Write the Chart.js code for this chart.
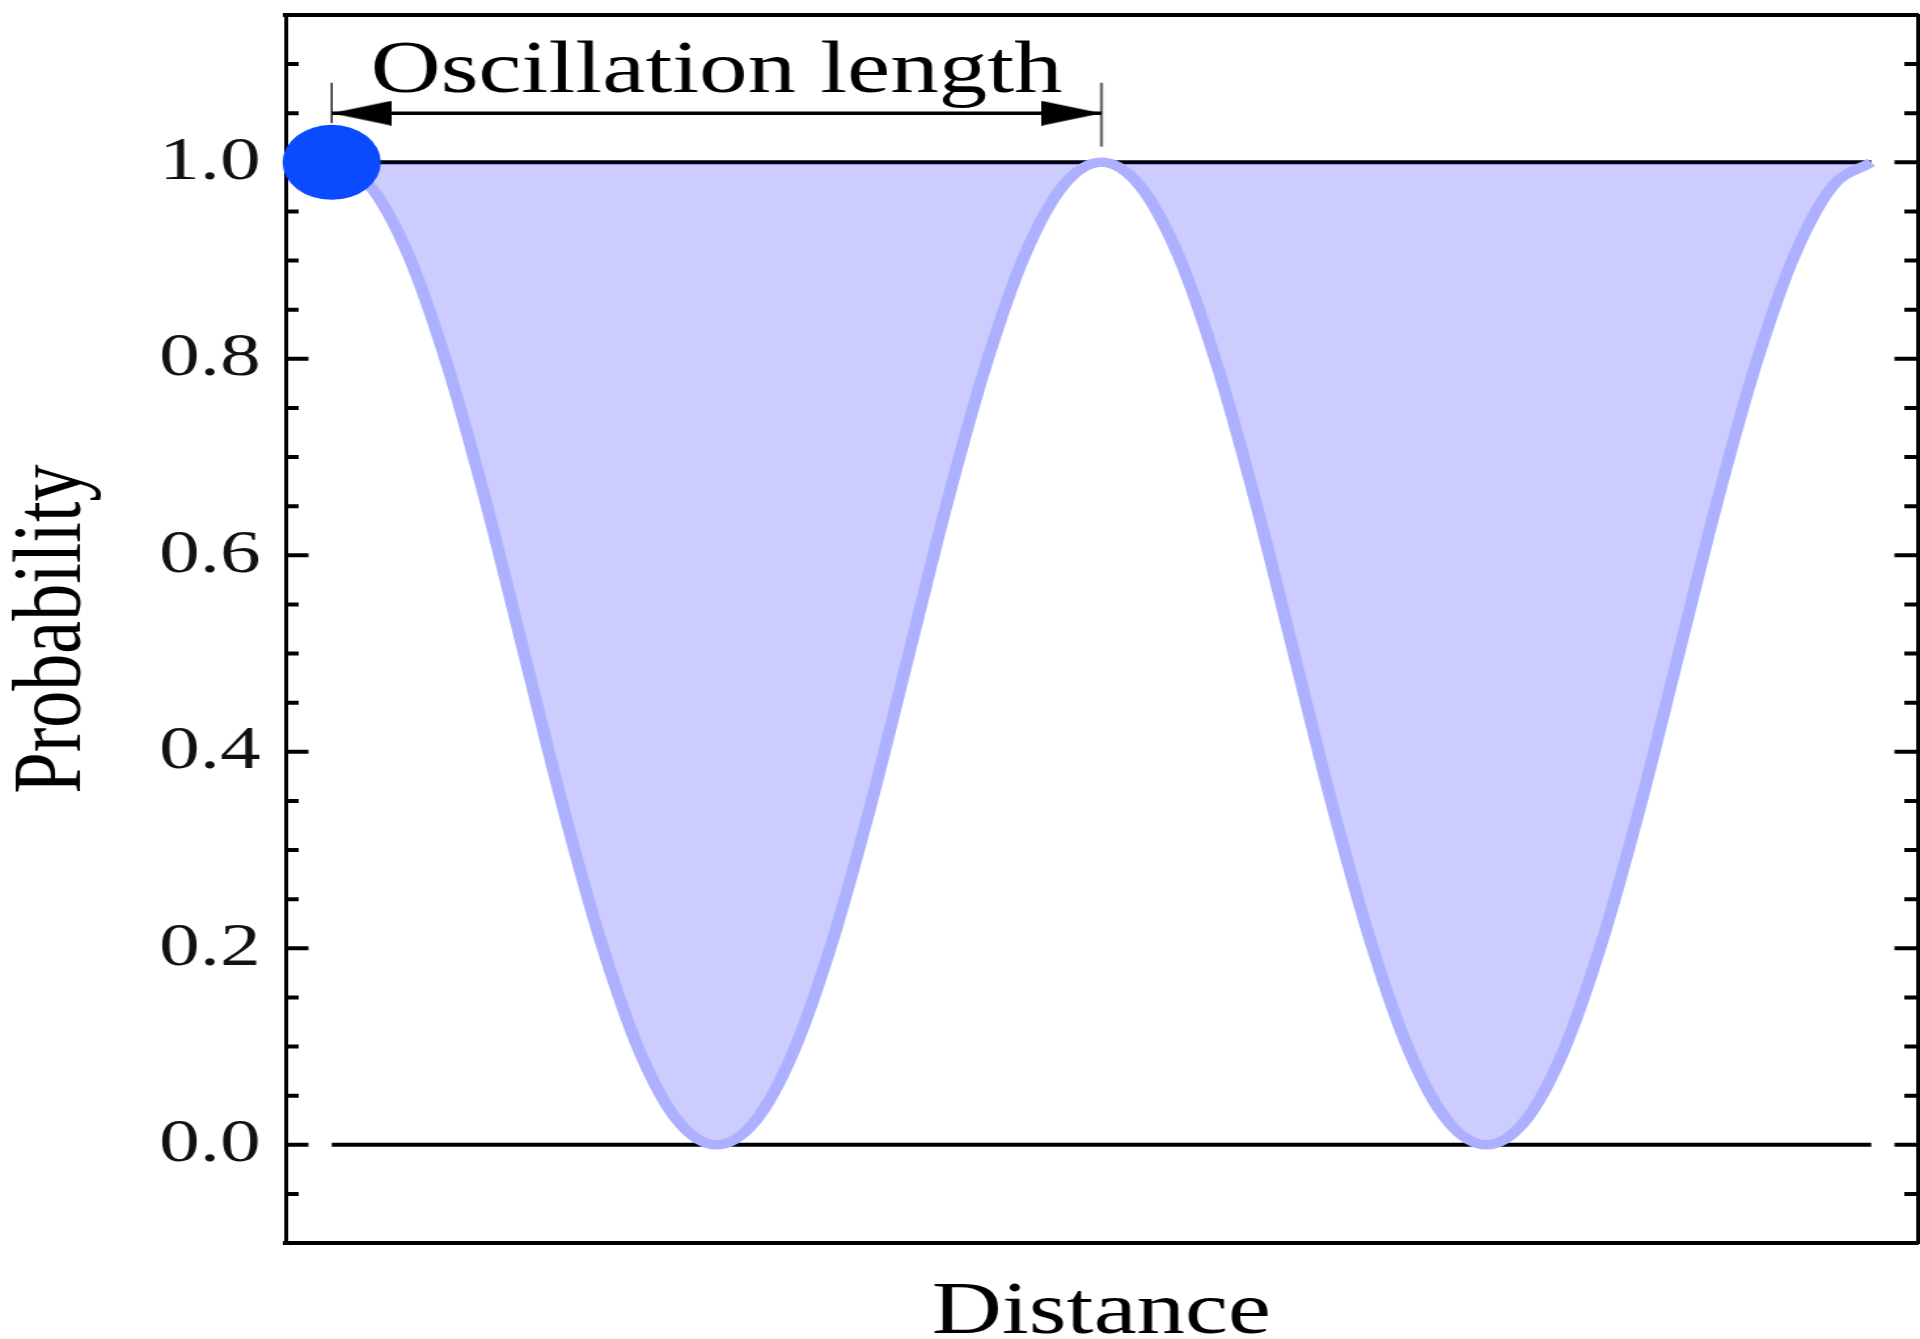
<!DOCTYPE html>
<html>
<head>
<meta charset="utf-8">
<script src="https://cdn.jsdelivr.net/npm/chart.js@4.4.1/dist/chart.umd.min.js"></script>
<style>
  html, body { margin: 0; padding: 0; background: #fff; overflow: hidden; }
  /* the figure is drawn narrow and stretched sideways */
  #wrap { width: 1466px; height: 1339px; transform: scaleX(1.3097); transform-origin: 0 0; }
  canvas { display: block; }
</style>
</head>
<body>
<div id="wrap"><canvas id="chart" width="1466" height="1339"></canvas></div>
<script>
// Survival probability along the path (two full oscillations)
const distance = [
    0.00, 0.05, 0.10, 0.15, 0.20, 0.25, 0.30, 0.35, 0.40, 0.45,
    0.50, 0.55, 0.60, 0.65, 0.70, 0.75, 0.80, 0.85, 0.90, 0.95,
    1.00, 1.05, 1.10, 1.15, 1.20, 1.25, 1.30, 1.35, 1.40, 1.45,
    1.50, 1.55, 1.60, 1.65, 1.70, 1.75, 1.80, 1.85, 1.90, 1.95, 2.00
];
const probability = [
    1.000, 0.976, 0.905, 0.794, 0.655, 0.500, 0.345, 0.206, 0.095, 0.024,
    0.000, 0.024, 0.095, 0.206, 0.345, 0.500, 0.655, 0.794, 0.905, 0.976,
    1.000, 0.976, 0.905, 0.794, 0.655, 0.500, 0.345, 0.206, 0.095, 0.024,
    0.000, 0.024, 0.095, 0.206, 0.345, 0.500, 0.655, 0.794, 0.905, 0.976, 1.000
];

// Reference levels drawn across the whole path
const boundLevels = [0, 1];
const boundSpan = [0, 2];

// Source position
const sourceX = [0];
const sourceY = [1];

// One oscillation length
const spanStart = 0;
const spanEnd = 1;
const spanText = 'Oscillation length';

const yMajorTicks = [0, 0.2, 0.4, 0.6, 0.8, 1.0];
const yTickLabels = ['0.0', '0.2', '0.4', '0.6', '0.8', '1.0'];

const serif = '"Liberation Serif", "Times New Roman", serif';

// annotation geometry, in data units
const arrowLevel = 1.05;
const textLevel = 1.072;
const barTop = 1.081;
const leftBarBottom = 1.04;
const rightBarBottom = 1.016;

// arrow head pointing right, tip in the centre of the image
function arrowHead(len, half) {
    const c = document.createElement('canvas');
    c.width = len * 2;
    c.height = half * 2;
    const g = c.getContext('2d');
    g.fillStyle = '#000';
    g.beginPath();
    g.moveTo(len, half);
    g.lineTo(0, 0);
    g.lineTo(0, half * 2);
    g.closePath();
    g.fill();
    return c;
}
const head = arrowHead(46, 12.5);

// inward tick marks on both vertical spines
const frameTicks = {
    id: 'frameTicks',
    beforeDatasetsDraw(chart) {
        const { ctx, chartArea: a, scales: { y } } = chart;
        ctx.save();
        ctx.strokeStyle = '#000';
        ctx.lineWidth = 4;
        y.ticks.forEach(t => {
            const py = y.getPixelForValue(t.value);
            const len = t.label ? 17.5 : 10;
            ctx.beginPath();
            ctx.moveTo(a.left, py);
            ctx.lineTo(a.left + len, py);
            ctx.moveTo(a.right, py);
            ctx.lineTo(a.right - len, py);
            ctx.stroke();
        });
        ctx.restore();
    }
};

const spanLabel = {
    id: 'spanLabel',
    afterDatasetsDraw(chart) {
        const { ctx, scales: { x, y } } = chart;
        ctx.save();
        ctx.font = '74px ' + serif;
        ctx.fillStyle = '#000';
        ctx.textAlign = 'center';
        ctx.textBaseline = 'alphabetic';
        ctx.fillText(spanText, x.getPixelForValue((spanStart + spanEnd) / 2), y.getPixelForValue(textLevel));
        ctx.restore();
    }
};

const lineSet = (pts, color, width, order) => ({
    data: pts,
    borderColor: color,
    borderWidth: width,
    pointRadius: 0,
    fill: false,
    clip: false,
    order: order
});

const ctx = document.getElementById('chart').getContext('2d');
new Chart(ctx, {
    type: 'line',
    data: {
        datasets: [
            // source
            {
                data: sourceX.map((v, i) => ({ x: v, y: sourceY[i] })),
                showLine: false,
                pointRadius: 37.5,
                pointBackgroundColor: '#0a4bff',
                pointBorderWidth: 0,
                clip: false,
                order: 0
            },
            // arrow heads
            {
                data: [{ x: spanStart, y: arrowLevel }, { x: spanEnd, y: arrowLevel }],
                showLine: false,
                pointStyle: head,
                pointRotation: [180, 0],
                pointRadius: 10,
                clip: false,
                order: 1
            },
            lineSet([{ x: spanStart, y: arrowLevel }, { x: spanEnd, y: arrowLevel }], '#000', 3.5, 1),
            lineSet([{ x: spanStart, y: leftBarBottom }, { x: spanStart, y: barTop }], '#222', 1.5, 1),
            lineSet([{ x: spanEnd, y: rightBarBottom }, { x: spanEnd, y: barTop }], '#707070', 2.5, 1),
            // oscillating probability, shaded up to 1
            {
                data: distance.map((d, i) => ({ x: d, y: probability[i] })),
                borderColor: '#acb0ff',
                backgroundColor: 'rgba(0, 0, 255, 0.2)',
                borderWidth: 9.5,
                fill: { value: 1 },
                pointRadius: 0,
                cubicInterpolationMode: 'monotone',
                order: 2
            },
            ...boundLevels.map(lv => lineSet(boundSpan.map(x => ({ x: x, y: lv })), '#000', 4, 3))
        ]
    },
    options: {
        responsive: false,
        devicePixelRatio: 1,
        animation: false,
        events: [],
        layout: { padding: 0, autoPadding: false },
        plugins: {
            legend: { display: false },
            tooltip: { enabled: false }
        },
        scales: {
            x: {
                type: 'linear',
                position: 'bottom',
                min: -0.06,
                max: 2.06,
                ticks: { display: false },
                grid: { display: false },
                border: { display: true, color: '#000', width: 4 },
                title: {
                    display: true,
                    text: 'Distance',
                    color: '#000',
                    font: { family: serif, size: 74, lineHeight: 0.6 },
                    padding: { top: 0, bottom: 3 }
                },
                afterFit: s => { s.height = 96; }
            },
            x2: {
                type: 'linear',
                position: 'top',
                min: -0.06,
                max: 2.06,
                ticks: { display: false },
                grid: { display: false },
                border: { display: true, color: '#000', width: 4 },
                afterFit: s => { s.height = 15; }
            },
            y: {
                type: 'linear',
                position: 'left',
                min: -0.1,
                max: 1.15,
                ticks: {
                    stepSize: 0.05,
                    autoSkip: false,
                    padding: 19,
                    color: '#111',
                    font: { family: serif, size: 62 },
                    callback: v => {
                        const i = yMajorTicks.findIndex(m => Math.abs(m - v) < 1e-6);
                        return i >= 0 ? yTickLabels[i] : '';
                    }
                },
                grid: { display: false, drawTicks: false },
                border: { display: true, color: '#000', width: 3 },
                title: {
                    display: true,
                    text: 'Probability',
                    color: '#000',
                    font: { family: serif, size: 74, lineHeight: 0.8 },
                    padding: { top: 12, bottom: 0 }
                },
                afterFit: s => {
                    s.width = 218;
                    s.paddingTop = 0;
                    s.paddingBottom = 0;
                }
            },
            y2: {
                type: 'linear',
                position: 'right',
                min: -0.1,
                max: 1.15,
                ticks: { display: false },
                grid: { display: false },
                border: { display: true, color: '#000', width: 3 },
                afterFit: s => { s.width = 2; }
            }
        }
    },
    plugins: [frameTicks, spanLabel]
});
</script>
</body>
</html>
